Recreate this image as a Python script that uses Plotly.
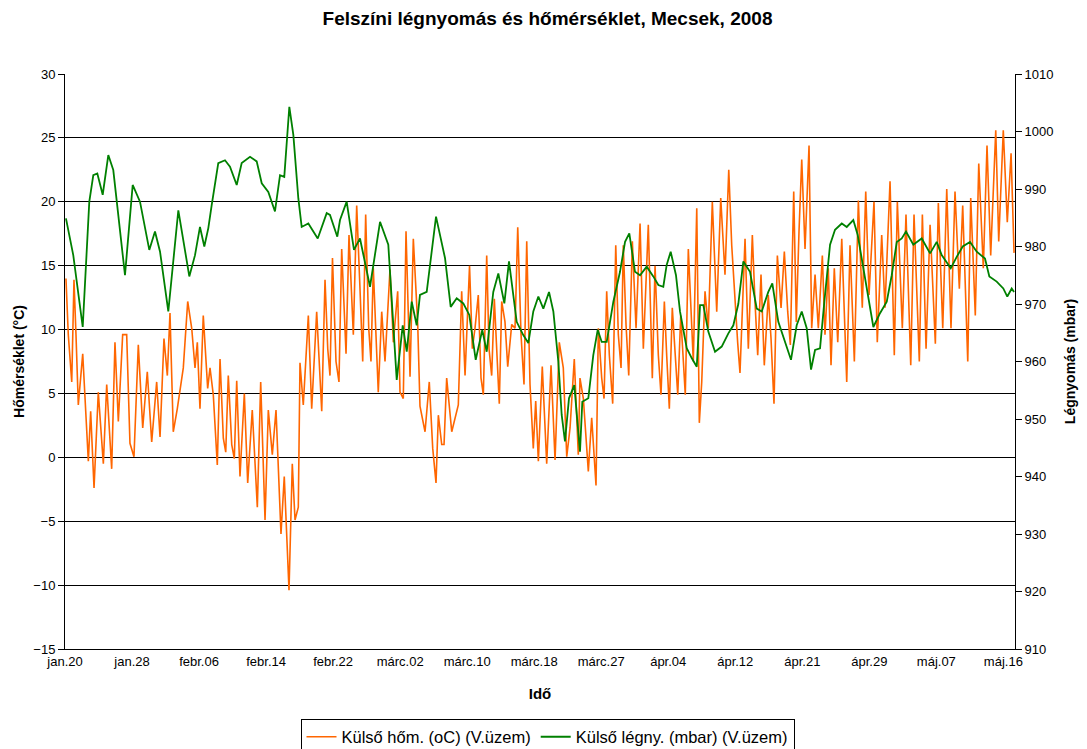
import plotly.graph_objects as go

# ---- data ----
# x = days since jan.20 (position along the category axis)
temp_day = [0.12, 0.41, 0.84, 1.12, 1.37, 1.66, 2.21, 2.91, 3.20, 3.62, 4.15, 4.78, 5.20, 5.82, 6.23, 6.65,
            7.19, 7.69, 8.10, 8.60, 9.14, 9.69, 10.26, 10.81, 11.43, 11.85, 12.34, 12.76, 13.09, 13.50, 14.00,
            14.75, 15.30, 15.80, 16.21, 16.50, 16.83, 17.24, 17.79, 18.08, 18.49, 18.99, 19.33, 19.74, 20.04,
            20.36, 20.79, 21.11, 21.41, 21.82, 22.36, 22.78, 23.35, 23.98, 24.40, 24.94, 25.35, 25.85, 26.31,
            26.93, 27.34, 27.93, 28.34, 28.68, 29.09, 29.30, 29.71, 30.34, 30.76, 31.38, 32.01, 32.42, 32.76,
            33.04, 33.35, 33.79, 34.16, 34.50, 35.04, 35.41, 35.95, 36.37, 36.78, 37.12, 37.49, 37.87, 38.15,
            38.44, 39.06, 39.49, 39.90, 40.52, 40.94, 41.48, 41.77, 42.18, 42.52, 43.02, 43.43, 43.98, 44.26,
            44.89, 45.42, 45.85, 46.26, 46.55, 46.97, 47.26, 47.59, 48.22, 49.04, 49.46, 49.88, 50.44, 50.79,
            51.12, 51.53, 51.87, 52.16, 52.58, 52.87, 53.20, 53.53, 53.87, 54.15, 54.45, 54.86, 55.20, 55.70,
            56.11, 56.45, 56.86, 57.23, 57.57, 57.98, 58.39, 58.69, 59.02, 59.51, 60.06, 60.60, 61.10, 61.63,
            62.13, 62.56, 62.97, 63.50, 64.00, 64.21, 64.63, 65.25, 65.67, 66.21, 66.50, 66.92, 67.21, 67.54,
            67.87, 68.29, 68.67, 68.99, 69.33, 69.61, 69.95, 70.29, 70.74, 71.20, 71.70, 72.11, 72.73, 73.23,
            73.57, 73.98, 74.31, 74.73, 75.02, 75.35, 75.72, 76.06, 76.40, 76.77, 77.10, 77.34, 77.72, 78.05,
            78.34, 78.77, 79.09, 79.39, 79.80, 80.21, 80.71, 81.26, 81.76, 82.29, 82.76, 83.13, 83.54, 83.87,
            84.16, 84.79, 85.20, 85.70, 86.03, 86.37, 86.78, 87.19, 87.69, 88.03, 88.40, 88.82, 89.28, 89.69,
            90.11, 90.44, 90.86, 91.18, 91.52, 91.86, 92.27, 92.77, 93.10, 93.52, 93.93, 94.43, 94.76, 95.17,
            95.51, 95.92, 96.35, 96.85, 97.47, 97.88, 98.42, 98.92, 99.41, 99.84, 100.25, 100.87, 101.28,
            101.83, 102.24, 102.87, 103.40, 103.78, 104.40, 104.86, 105.45, 105.86, 106.52, 106.90, 107.36,
            107.86, 108.52, 108.89, 109.44, 109.94, 110.47, 110.97, 111.51, 111.93, 112.56, 112.93, 113.50,
            113.93, 114.50, 114.96, 115.42, 116.05, 116.42, 116.99, 117.49, 117.96, 118.33]
temp_val = [14.0, 9.6, 5.9, 13.9, 9.6, 4.1, 8.1, -0.3, 3.6, -2.4, 5.1, -0.5, 5.7, -0.9, 9.0, 2.8,
            9.6, 9.6, 1.1, 0.05, 8.8, 2.3, 6.7, 1.2, 5.9, 1.6, 9.3, 6.4, 11.3, 2.0, 3.8,
            7.0, 12.2, 10.1, 7.0, 9.0, 3.8, 11.1, 5.4, 7.0, 4.9, -0.6, 7.7, 1.5, 0.4,
            6.4, 1.0, -0.1, 6.0, -1.5, 5.0, -2.0, 3.7, -3.9, 5.9, -4.9, 3.7, 0.2, 3.7,
            -6.0, -1.5, -10.4, -0.5, -4.9, -3.9, 7.4, 4.1, 11.1, 3.8, 11.4, 3.6, 13.9, 8.5,
            6.4, 15.6, 7.5, 5.9, 16.3, 8.1, 17.4, 9.6, 19.7, 13.2, 7.5, 19.0, 10.1, 7.5,
            14.8, 5.1, 11.4, 7.5, 14.7, 9.0, 13.0, 5.1, 4.6, 17.7, 6.3, 17.1, 10.4, 4.0,
            2.0, 5.9, 0.7, -2.0, 3.3, 1.0, 1.0, 6.2, 2.0, 4.1, 13.0, 6.4, 15.0, 8.5,
            10.1, 12.7, 6.2, 4.9, 15.8, 8.5, 6.4, 12.4, 8.0, 4.2, 12.2, 10.6, 7.1, 10.4,
            10.1, 18.0, 9.6, 5.7, 16.9, 5.7, 0.7, 4.4, -0.3, 7.1, -0.5, 7.2, -0.2, 9.0,
            7.0, 0.05, 2.3, 7.7, 0.2, 6.2, 4.6, -1.1, 3.1, -2.2, 10.1, 6.2, 4.6, 13.0,
            8.0, 4.2, 16.6, 9.6, 7.0, 16.6, 10.4, 6.4, 16.9, 10.1, 18.3, 8.5, 18.2, 6.2,
            15.0, 8.0, 4.9, 12.2, 8.0, 3.8, 11.7, 8.5, 4.9, 11.1, 7.5, 4.9, 16.3, 11.4,
            7.5, 19.5, 2.7, 5.9, 13.0, 10.1, 20.0, 11.4, 20.3, 14.3, 22.5, 16.6, 11.9, 9.0,
            6.6, 17.1, 8.5, 17.4, 12.2, 8.0, 14.3, 7.2, 12.7, 9.3, 4.2, 15.8, 11.7, 16.1,
            11.4, 8.8, 20.8, 10.6, 17.7, 23.3, 16.3, 24.4, 10.1, 14.3, 10.1, 15.8, 9.6, 14.8,
            7.2, 14.8, 9.0, 17.1, 5.9, 16.6, 7.5, 20.1, 11.7, 20.8, 12.7, 20.0, 9.0,
            17.4, 11.7, 21.6, 8.0, 20.0, 10.1, 19.0, 7.2, 19.0, 7.5, 19.0, 8.5,
            18.2, 8.9, 19.9, 10.1, 21.0, 10.1, 20.8, 13.2, 19.7, 7.5, 20.3, 11.1,
            23.0, 14.8, 24.4, 15.8, 25.6, 16.9, 25.6, 18.4, 23.8, 16.0]

pres_day = [0.12, 1.03, 2.21, 3.03, 3.53, 4.03, 4.70, 5.40, 6.02, 7.48, 8.44, 9.35, 10.51, 11.22, 11.85,
            12.88, 14.13, 15.50, 16.21, 16.83, 17.37, 17.87, 18.29, 19.11, 19.95, 20.57, 21.41, 22.03, 23.07,
            23.90, 24.53, 25.35, 26.18, 26.81, 27.34, 27.97, 28.47, 29.09, 29.51, 30.34, 31.51, 32.63, 33.04,
            33.95, 34.29, 35.12, 36.03, 36.78, 38.03, 39.28, 40.31, 41.36, 42.11, 42.61, 43.23, 43.85, 44.26,
            45.10, 46.26, 47.38, 48.09, 48.84, 49.66, 50.41, 51.21, 52.03, 52.58, 53.40, 54.03, 54.78, 55.36,
            56.32, 57.14, 57.77, 58.39, 59.02, 59.64, 60.35, 60.89, 61.51, 61.93, 62.34, 62.84, 63.50, 64.21,
            64.50, 65.25, 65.87, 66.42, 66.92, 67.54, 68.37, 69.20, 69.83, 70.36, 71.07, 71.70, 72.53, 73.35,
            73.98, 74.60, 75.02, 75.52, 76.18, 76.68, 77.52, 78.14, 78.77, 79.18, 79.59, 80.21, 81.05, 81.88,
            82.71, 83.33, 83.95, 84.58, 85.41, 86.25, 86.87, 87.69, 88.19, 88.94, 89.78, 90.52, 91.23, 91.86,
            92.48, 93.02, 93.52, 94.14, 94.68, 95.39, 96.01, 96.85, 97.47, 98.29, 98.84, 99.54, 100.16, 100.79,
            101.62, 102.46, 103.08, 103.71, 104.33, 104.86, 105.77, 106.82, 107.86, 108.69, 109.31, 110.44,
            111.18, 111.93, 112.84, 113.68, 114.71, 115.25, 116.17, 116.99, 117.49, 118.04, 118.33]
pres_val = [984.9, 978.5, 966.0, 987.8, 992.4, 992.7, 989.0, 995.9, 993.3, 975.0, 990.7, 987.8, 979.4, 982.6, 979.1,
            968.7, 986.3, 974.8, 978.5, 983.4, 980.0, 983.2, 987.2, 994.5, 995.0, 993.9, 990.7, 994.5, 995.6,
            994.8, 991.0, 989.5, 986.1, 992.4, 992.1, 1004.3, 999.4, 988.4, 983.4, 984.0, 981.4, 985.8, 985.5,
            981.7, 984.6, 987.8, 979.4, 981.4, 973.0, 984.3, 980.3, 956.8, 966.3, 961.7, 970.4, 966.3, 971.6,
            972.1, 985.2, 978.0, 969.5, 971.0, 970.1, 968.1, 960.3, 965.5, 961.7, 972.1, 975.3, 970.1, 977.4,
            966.9, 964.6, 963.2, 968.7, 971.3, 969.2, 972.1, 968.7, 960.0, 950.7, 946.1, 953.6, 955.9, 944.3,
            953.0, 953.6, 961.1, 965.5, 963.4, 963.4, 970.4, 975.6, 980.8, 982.3, 975.6, 975.0, 976.5, 974.8,
            973.3, 973.0, 976.8, 979.1, 975.0, 968.7, 962.3, 960.6, 959.1, 969.8, 969.8, 965.2, 961.7, 962.6,
            964.9, 966.3, 970.0, 977.4, 975.6, 969.2, 968.7, 972.1, 973.6, 966.9, 963.4, 960.3, 966.3, 968.7,
            965.8, 958.6, 962.0, 962.3, 970.4, 980.3, 982.9, 984.0, 983.4, 984.6, 982.0, 976.2, 971.6, 966.0,
            968.4, 970.4, 975.0, 980.8, 981.4, 982.6, 980.3, 981.4, 978.8, 980.8, 978.5, 976.2,
            978.2, 980.0, 980.8, 979.1, 977.9, 974.8, 973.9, 972.7, 971.3, 972.7, 972.1]

tick_labels = ["jan.20", "jan.28", "febr.06", "febr.14", "febr.22", "márc.02", "márc.10", "márc.18",
               "márc.27", "ápr.04", "ápr.12", "ápr.21", "ápr.29", "máj.07", "máj.16"]
label_span_days = 117  # jan.20 -> máj.16, labels evenly spaced along the category axis
x_end = 118.45

tick_pos = [i * label_span_days / (len(tick_labels) - 1) for i in range(len(tick_labels))]

ORANGE = "#FF6600"
GREEN = "#008000"
FONT = "Liberation Sans, Arial, sans-serif"
TICKFONT = dict(family=FONT, size=13, color="black")

# page body has an 8px default margin -> figure is 8px smaller than the window
W, H = 1079, 741

fig = go.Figure()
fig.add_trace(go.Scatter(x=temp_day, y=temp_val, mode="lines", name="Külső hőm. (oC) (V.üzem)",
                         line=dict(color=ORANGE, width=1.6)))
fig.add_trace(go.Scatter(x=pres_day, y=pres_val, mode="lines", name="Külső légny. (mbar) (V.üzem)",
                         line=dict(color=GREEN, width=1.8), yaxis="y2"))

fig.update_layout(
    width=W, height=H,
    margin=dict(l=57, r=72, t=66, b=100),
    paper_bgcolor="white", plot_bgcolor="white",
    font=dict(family=FONT, color="black"),
    title=dict(text="<b>Felszíni légnyomás és hőmérséklet, Mecsek, 2008</b>", x=0.5, xanchor="center",
               y=1 - 10 / H, yanchor="middle", font=dict(size=19)),
    xaxis=dict(range=[0, x_end], tickvals=tick_pos, ticktext=tick_labels, tickfont=TICKFONT,
               showgrid=False, zeroline=False, showline=True, linecolor="black", linewidth=1,
               ticks="", automargin=False,
               title=dict(text="<b>Idő</b>", font=dict(size=15), standoff=20)),
    yaxis=dict(range=[-15, 30], dtick=5, tickfont=TICKFONT, showgrid=True, gridcolor="black", gridwidth=1,
               zeroline=False, showline=True, linecolor="black", linewidth=1, ticks="outside", ticklen=6,
               tickcolor="black", automargin=False,
               title=dict(text="<b>Hőmérséklet (°C)</b>", font=dict(size=14), standoff=5)),
    yaxis2=dict(range=[910, 1010], dtick=10, overlaying="y", side="right", tickfont=TICKFONT,
                showgrid=False, zeroline=False, showline=True, linecolor="black", linewidth=1,
                ticks="outside", ticklen=6, tickcolor="black", automargin=False,
                title=dict(text="<b>Légnyomás (mbar)</b>", font=dict(size=14), standoff=12)),
    legend=dict(orientation="h", x=0.5, xanchor="center", xref="container",
                y=1 - 729 / H, yanchor="middle", yref="container",
                bordercolor="black", borderwidth=1, bgcolor="white",
                font=dict(family=FONT, size=16.5), tracegroupgap=0),
    showlegend=True,
)

fig.write_html("out.html")
